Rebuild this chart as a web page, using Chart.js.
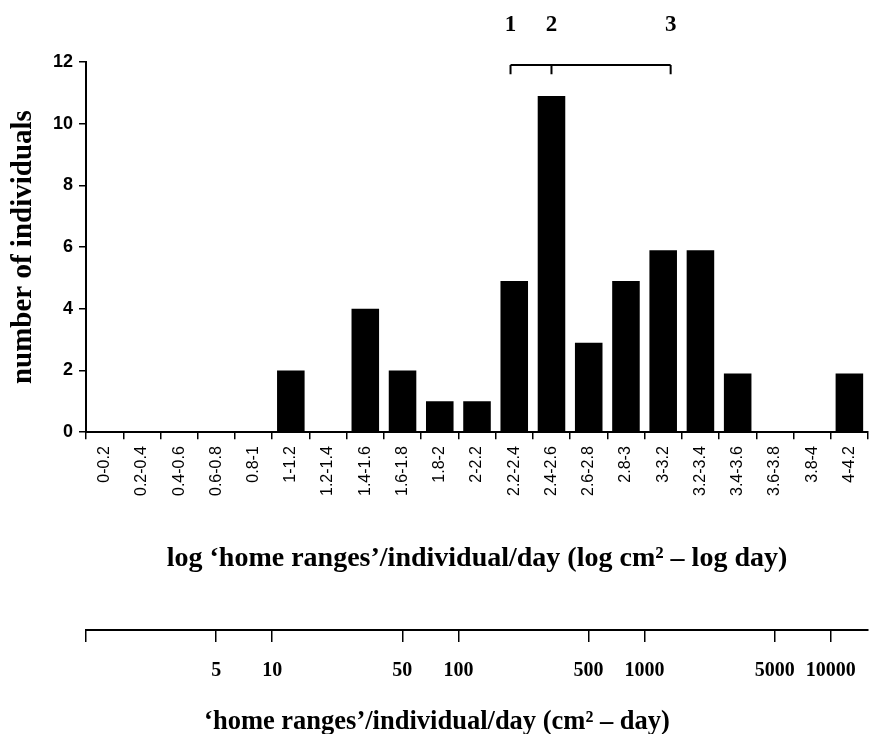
<!DOCTYPE html>
<html>
<head>
<meta charset="utf-8">
<script src="https://cdn.jsdelivr.net/npm/chart.js@4"></script>
<style>
  html, body { margin: 0; padding: 0; background: #fff; }
  #wrap { width: 890px; height: 734px; }
</style>
</head>
<body>
<div id="wrap"><canvas id="histChart" width="890" height="734"></canvas></div>
<script>
// Data
const rangeLabels = ['0-0.2', '0.2-0.4', '0.4-0.6', '0.6-0.8', '0.8-1', '1-1.2', '1.2-1.4',
    '1.4-1.6', '1.6-1.8', '1.8-2', '2-2.2', '2.2-2.4', '2.4-2.6', '2.6-2.8', '2.8-3',
    '3-3.2', '3.2-3.4', '3.4-3.6', '3.6-3.8', '3.8-4', '4-4.2'];
const individuals = [0, 0, 0, 0, 0, 2, 0, 4, 2, 1, 1, 4.9, 10.9, 2.9, 4.9, 5.9, 5.9, 1.9, 0, 0, 1.9];
const yTicks = [0, 2, 4, 6, 8, 10, 12];
const rawTicks = [1, 5, 10, 50, 100, 500, 1000, 5000, 10000];
const groupMarks = ['1', '2', '3'];
const groupLogValues = [2.28, 2.5, 3.14];

const binWidth = 0.2;
const logMax = rangeLabels.length * binWidth;   // 4.2
const serif = "'Liberation Serif', 'Times New Roman', serif";
const sans = "'Liberation Sans', Arial, sans-serif";

// Bracket with group numbers above the bars
const bracketPlugin = {
    id: 'bracket',
    afterDraw(chart) {
        const {ctx, scales: {x, y}} = chart;
        const xs = groupLogValues.map(v => x.getPixelForValue(v / binWidth - 0.5));
        const lineY = y.getPixelForValue(11.9);
        const tipY = y.getPixelForValue(11.6);
        const textY = y.getPixelForValue(13.2);
        ctx.save();
        ctx.strokeStyle = '#000';
        ctx.lineWidth = 2;
        ctx.beginPath();
        ctx.moveTo(xs[0], lineY);
        ctx.lineTo(xs[xs.length - 1], lineY);
        xs.forEach(px => { ctx.moveTo(px, lineY); ctx.lineTo(px, tipY); });
        ctx.stroke();
        ctx.fillStyle = '#000';
        ctx.font = 'bold 23px ' + serif;
        ctx.textAlign = 'center';
        ctx.textBaseline = 'middle';
        groupMarks.forEach((t, i) => ctx.fillText(t, xs[i], textY));
        ctx.restore();
    }
};

const ctx = document.getElementById('histChart').getContext('2d');
new Chart(ctx, {
    type: 'bar',
    data: {
        labels: rangeLabels,
        datasets: [{
            data: individuals,
            backgroundColor: '#000',
            borderWidth: 0,
            barPercentage: 0.74,
            categoryPercentage: 1.0
        }]
    },
    options: {
        responsive: false,
        animation: false,
        devicePixelRatio: 1,
        layout: { padding: { top: 62, right: 22, left: 6, bottom: 0 } },
        plugins: {
            legend: { display: false },
            tooltip: { enabled: false },
            title: {
                display: true,
                position: 'bottom',
                text: '\u2018home ranges\u2019/individual/day (cm\u00b2 \u2013 day)',
                color: '#000',
                font: { family: serif, size: 26.5, weight: 'bold', lineHeight: 1 },
                padding: { top: 9, bottom: -1.5 }
            }
        },
        scales: {
            x: {
                type: 'category',
                offset: true,
                grid: { offset: true, drawOnChartArea: false, tickLength: 7, color: '#000', lineWidth: 1.5 },
                border: { color: '#000', width: 2 },
                ticks: {
                    color: '#000', font: { family: sans, size: 16 },
                    minRotation: 90, maxRotation: 90, padding: 7, autoSkip: false
                },
                title: {
                    display: true,
                    text: 'log \u2018home ranges\u2019/individual/day (log cm\u00b2 \u2013 log day)',
                    color: '#000',
                    font: { family: serif, size: 28, weight: 'bold', lineHeight: 1 },
                    padding: { top: 42, bottom: 57 }
                }
            },
            x2: {
                type: 'logarithmic',
                position: 'bottom',
                offset: false,
                min: 1,
                max: Math.pow(10, logMax),
                afterBuildTicks: s => { s.ticks = rawTicks.map(v => ({ value: v })); },
                grid: { offset: false, drawOnChartArea: false, tickLength: 12, color: '#000', lineWidth: 1.5 },
                border: { color: '#000', width: 2 },
                ticks: {
                    color: '#000', font: { family: serif, size: 20, weight: 'bold' },
                    padding: 17, autoSkip: false, maxRotation: 0, minRotation: 0,
                    callback: v => (v === 1 ? '' : String(v))
                }
            },
            y: {
                min: 0,
                max: 12,
                afterBuildTicks: s => { s.ticks = yTicks.map(v => ({ value: v })); },
                grid: { drawOnChartArea: false, tickLength: 7, color: '#000', lineWidth: 1.5 },
                border: { color: '#000', width: 2 },
                ticks: { color: '#000', font: { family: sans, size: 18, weight: 'bold' }, padding: 6 },
                title: {
                    display: true,
                    text: 'number of individuals',
                    color: '#000',
                    font: { family: serif, size: 29, weight: 'bold', lineHeight: 1 },
                    padding: { top: 3, bottom: 9 }
                }
            }
        }
    },
    plugins: [bracketPlugin]
});
</script>
</body>
</html>
